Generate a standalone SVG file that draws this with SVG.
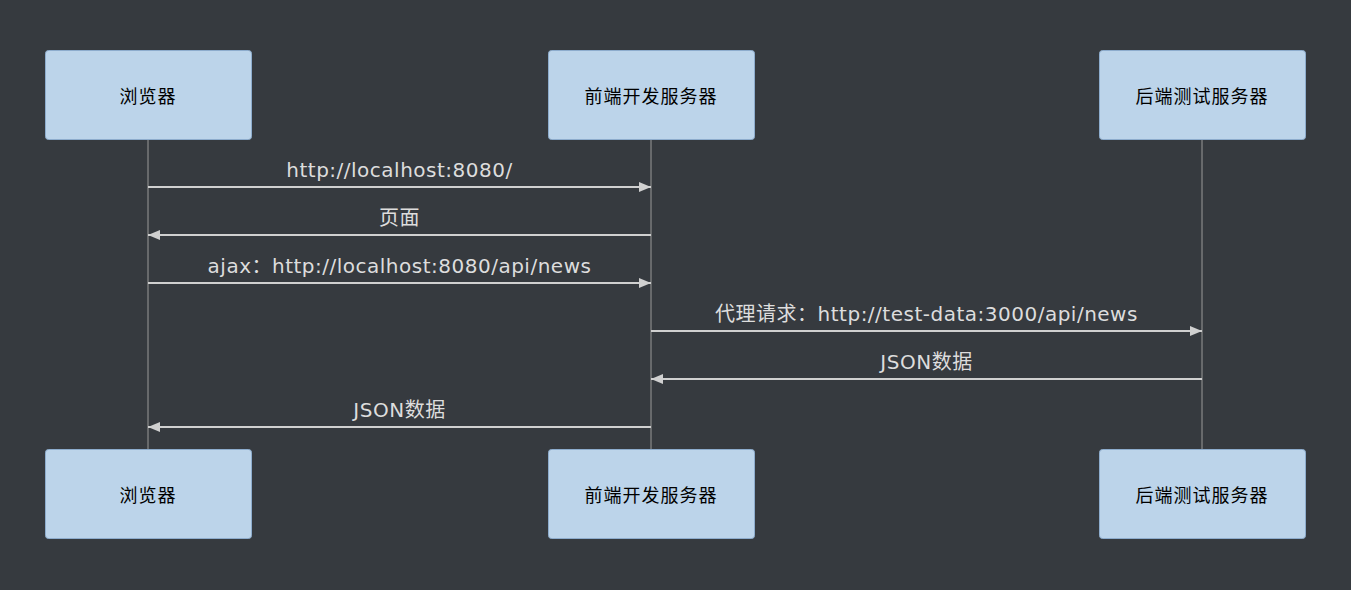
<svg xmlns="http://www.w3.org/2000/svg" width="1351" height="590" viewBox="0 0 1351 590">
<style>
.bg{fill:#363a3f}
.actor rect{fill:#bcd4ea;stroke:#8daccd;stroke-width:1}
.actor text{font-family:"Noto Sans","Noto Sans CJK SC",sans-serif;font-size:18px;letter-spacing:1px;fill:#000;text-anchor:middle;dominant-baseline:central}
.life{stroke:#999;stroke-width:1}
.msg{stroke:#d0d0d0;stroke-width:2;fill:none}
.lbl{font-family:"DejaVu Sans","Noto Sans CJK SC",sans-serif;font-size:20px;letter-spacing:0.5px;fill:#ddd;text-anchor:middle}
</style>
<defs>
<marker id="ah" viewBox="0 0 12 10" refX="12" refY="5" markerWidth="12" markerHeight="10" markerUnits="userSpaceOnUse" orient="auto">
<path d="M0,0 L12,5 L0,10 z" fill="#d0d0d0"/>
</marker>
</defs>
<rect class="bg" x="0" y="0" width="1351" height="590"/>
<g id="lifelines">
<line class="life" x1="148" y1="139" x2="148" y2="449"/>
<line class="life" x1="651" y1="139" x2="651" y2="449"/>
<line class="life" x1="1202" y1="139" x2="1202" y2="449"/>
</g>
<g id="browser-top" class="actor"><rect x="45.5" y="50.5" width="206" height="89" rx="3"/><text x="148" y="96">浏览器</text></g>
<g id="frontend-top" class="actor"><rect x="548.5" y="50.5" width="206" height="89" rx="3"/><text x="651" y="96">前端开发服务器</text></g>
<g id="backend-top" class="actor"><rect x="1099.5" y="50.5" width="206" height="89" rx="3"/><text x="1202" y="96">后端测试服务器</text></g>
<g id="browser-bottom" class="actor"><rect x="45.5" y="449.5" width="206" height="89" rx="3"/><text x="148" y="495">浏览器</text></g>
<g id="frontend-bottom" class="actor"><rect x="548.5" y="449.5" width="206" height="89" rx="3"/><text x="651" y="495">前端开发服务器</text></g>
<g id="backend-bottom" class="actor"><rect x="1099.5" y="449.5" width="206" height="89" rx="3"/><text x="1202" y="495">后端测试服务器</text></g>
<g id="connectors">
<line class="msg" x1="148" y1="187" x2="651" y2="187" marker-end="url(#ah)"/>
<line class="msg" x1="651" y1="235" x2="148" y2="235" marker-end="url(#ah)"/>
<line class="msg" x1="148" y1="283" x2="651" y2="283" marker-end="url(#ah)"/>
<line class="msg" x1="651" y1="331" x2="1202" y2="331" marker-end="url(#ah)"/>
<line class="msg" x1="1202" y1="379" x2="651" y2="379" marker-end="url(#ah)"/>
<line class="msg" x1="651" y1="427" x2="148" y2="427" marker-end="url(#ah)"/>
</g>
<g id="labels">
<text class="lbl" x="399.5" y="177">http://localhost:8080/</text>
<text class="lbl" x="399.5" y="225">页面</text>
<text class="lbl" x="399.5" y="273">ajax：http://localhost:8080/api/news</text>
<text class="lbl" x="926.5" y="321">代理请求：http://test-data:3000/api/news</text>
<text class="lbl" x="926.5" y="369">JSON数据</text>
<text class="lbl" x="399.5" y="417">JSON数据</text>
</g>
</svg>
